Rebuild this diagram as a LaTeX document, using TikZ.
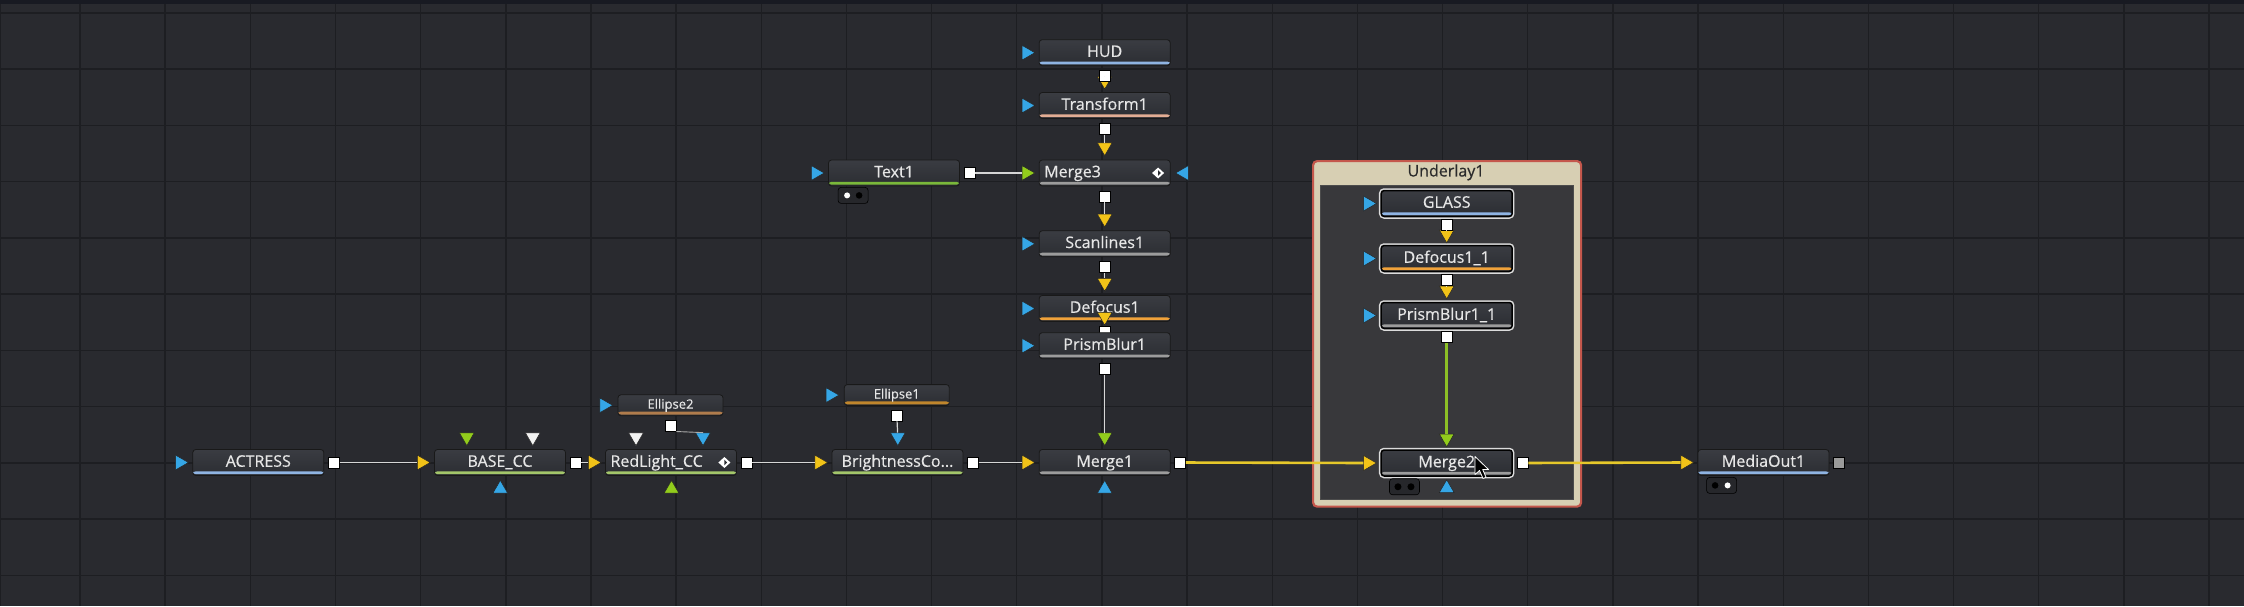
\documentclass[tikz,border=0pt]{standalone}
\usepackage{fontspec}
\newfontfamily\uifont[FakeBold=0.5]{Open Sans}
\usetikzlibrary{shapes.geometric,calc}
\definecolor{bgc}{HTML}{292A2F}
\definecolor{gridc}{HTML}{1D1E22}
\definecolor{topband}{HTML}{181A22}
\definecolor{nodetop}{HTML}{3A3C42}
\definecolor{nodebot}{HTML}{2B2D32}
\definecolor{nodetext}{HTML}{E6E6E6}
\definecolor{barblue}{HTML}{8FB4E3}
\definecolor{barcc}{HTML}{A3C66A}
\definecolor{bartext}{HTML}{7AB83A}
\definecolor{barbrown}{HTML}{B07C4C}
\definecolor{barochre}{HTML}{C0862C}
\definecolor{barorange}{HTML}{F0A23A}
\definecolor{barpeach}{HTML}{E3AD94}
\definecolor{bargrey}{HTML}{9C9C9C}
\definecolor{triblue}{HTML}{35A6E6}
\definecolor{triyellow}{HTML}{F2C318}
\definecolor{trigreen}{HTML}{92CC1C}
\definecolor{triwhite}{HTML}{F2F2F2}
\definecolor{linkc}{HTML}{D6D6D6}
\definecolor{ylinkc}{HTML}{E6C82A}
\definecolor{glinkc}{HTML}{8CBF26}
\definecolor{beige}{HTML}{D7CFB3}
\definecolor{redc}{HTML}{C4574C}
\definecolor{innerc}{HTML}{38383B}
\definecolor{selc}{HTML}{DCDCDC}
\definecolor{headtxt}{HTML}{2B2B2B}
\definecolor{tabc}{HTML}{26272B}
\definecolor{greysq}{HTML}{9A9A9A}
\tikzset{
  fnode/.style={rectangle, rounded corners=3pt, minimum width=131pt, minimum height=26pt,
    inner sep=0pt, text height=11.5pt, text depth=3pt, top color=nodetop, bottom color=nodebot,
    draw=black!90, line width=0.8pt, text=nodetext, font=\uifont\fontsize{16}{18}\selectfont},
  selnode/.style={fnode, preaction={draw=selc, line width=4.5pt}, draw=black, line width=1.5pt},
  smallnode/.style={fnode, minimum width=105pt, minimum height=21pt, text height=9.3pt,
    text depth=2.5pt, font=\uifont\fontsize{13}{15}\selectfont},
  bar/.style={path picture={\fill[#1] ([yshift=1.3pt]path picture bounding box.south west)
    rectangle ([yshift=4.2pt]path picture bounding box.south east);}},
  leftal/.style={text width=121pt, align=left},
  tri/.style={regular polygon, regular polygon sides=3, minimum size=17pt, inner sep=0pt,
    draw=black!85, line width=0.5pt},
  tright/.style={tri, shape border rotate=-90, fill=#1, anchor=east},
  tleft/.style={tri, shape border rotate=90, fill=#1, anchor=west},
  tdown/.style={tri, shape border rotate=180, fill=#1, anchor=south},
  tup/.style={tri, fill=#1, anchor=north},
  osq/.style={rectangle, minimum size=11pt, inner sep=0pt, fill=#1, draw=black, line width=0.6pt},
  osq/.default=white,
  ptab/.style={rectangle, rounded corners=3pt, minimum width=30pt, minimum height=16pt,
    inner sep=0pt, fill=tabc, draw=black, line width=0.6pt},
  link/.style={draw=linkc, line width=1.2pt},
  ylink/.style={draw=ylinkc, line width=2.6pt},
  glink/.style={draw=glinkc, line width=2.6pt}
}
\begin{document}
\begin{tikzpicture}[x=1pt,y=-1pt]
\useasboundingbox (0,0) rectangle (2244,606);
% background and grid
\fill[bgc] (0,0) rectangle (2244,606);
\foreach \k in {0,...,25} { \draw[gridc, line width=1.4pt] ({80+85.16*\k},0) -- ({80+85.16*\k},606); }
\foreach \k in {0,...,10} { \draw[gridc, line width=1.4pt] (0,{12.9+56.24*\k}) -- (2244,{12.9+56.24*\k}); }
\draw[gridc, line width=1.4pt] (0.7,0) -- (0.7,606);
\fill[topband] (0,0) rectangle (2244,3.5);

% group Underlay1
\node[rectangle, rounded corners=4pt, fill=beige, draw=redc, line width=2.2pt, minimum width=268pt,
  minimum height=345.5pt, anchor=north west, inner sep=0pt] (underlay) at (1312,160) {};
\node[rectangle, fill=innerc, draw=black!70, line width=0.6pt, minimum width=253pt, minimum height=313.7pt,
  anchor=north west, inner sep=0pt] (underlayin) at (1319.5,184.8) {};
\node[text=headtxt, font=\uifont\fontsize{16}{18}\selectfont, inner sep=0pt] (underlayhead) at (1446,172.3) {Underlay1};

% main row
\node[fnode, bar=barblue] (actress) at (258.3,462.5) {ACTRESS};
\node[fnode, bar=barcc] (basecc) at (500,462.5) {BASE\_CC};
\node[fnode, bar=barcc, leftal] (redlight) at (671,462.5) {RedLight\_CC};
\node[fnode, bar=barcc] (bright) at (897.5,462.5) {BrightnessCo...};
\node[fnode, bar=bargrey] (merge1) at (1104.7,462.5) {Merge1};
\node[fnode, bar=barblue] (mediaout) at (1763.5,462.5) {MediaOut1};
% column
\node[fnode, bar=barblue] (hud) at (1104.7,52.7) {HUD};
\node[fnode, bar=barpeach] (transform) at (1104.7,105.5) {Transform1};
\node[fnode, bar=bargrey, leftal] (merge3) at (1104.7,173) {Merge3};
\node[fnode, bar=bartext] (text1) at (894,173) {Text1};
\node[fnode, bar=bargrey] (scan) at (1104.7,243.8) {Scanlines1};
\node[fnode, bar=barorange] (defocus) at (1104.7,308.5) {Defocus1};
\node[osq] (def-out) at ($(defocus.south)+(0,9.5)$) {};
\node[fnode, bar=bargrey] (prism) at (1104.7,345.7) {PrismBlur1};
% masks
\node[smallnode, bar=barbrown] (ellipse2) at (670.5,405.3) {Ellipse2};
\node[smallnode, bar=barochre] (ellipse1) at (896.8,395.1) {Ellipse1};
% group contents
\node[selnode, bar=barblue] (glass) at (1446.7,203.5) {GLASS};
\node[selnode, bar=barorange] (defocus11) at (1446.7,258.5) {Defocus1\_1};
\node[selnode, bar=bargrey] (prism11) at (1446.7,315.5) {PrismBlur1\_1};
\node[selnode, bar=bargrey] (merge2) at (1446.7,463) {Merge2};

% diamond icons
\foreach \n in {merge3,redlight} {
  \fill[white] ($(\n.east)+(-18.5,0)$) -- ++(6,-5.5) -- ++(6,5.5) -- ++(-6,5.5) -- cycle;
  \fill[nodebot] ($(\n.east)+(-12.5,0)$) -- ++(0,-2.8) -- ++(2.8,2.8) -- ++(-2.8,2.8) -- cycle;
}

% left inputs
\node[tright=triblue] (actress-in) at ($(actress.west)+(-3.5,0)$) {};
\node[tright=triyellow] (basecc-in) at ($(basecc.west)+(-3.5,0)$) {};
\node[tright=triyellow] (redlight-in) at ($(redlight.west)+(-3.5,0)$) {};
\node[tright=triyellow] (bright-in) at ($(bright.west)+(-3.5,0)$) {};
\node[tright=triyellow] (merge1-in) at ($(merge1.west)+(-3.5,0)$) {};
\node[tright=triyellow] (merge2-in) at ($(merge2.west)+(-3.5,0)$) {};
\node[tright=triyellow] (mediaout-in) at ($(mediaout.west)+(-3.5,0)$) {};
\node[tright=triblue] (hud-in) at ($(hud.west)+(-3.5,0)$) {};
\node[tright=triblue] (transform-side) at ($(transform.west)+(-3.5,0)$) {};
\node[tright=trigreen] (merge3-fg) at ($(merge3.west)+(-3.5,0)$) {};
\node[tright=triblue] (text1-in) at ($(text1.west)+(-3.5,0)$) {};
\node[tright=triblue] (scan-side) at ($(scan.west)+(-3.5,0)$) {};
\node[tright=triblue] (defocus-side) at ($(defocus.west)+(-3.5,0)$) {};
\node[tright=triblue] (prism-side) at ($(prism.west)+(-3.5,0)$) {};
\node[tright=triblue] (glass-in) at ($(glass.west)+(-3.5,0)$) {};
\node[tright=triblue] (defocus11-side) at ($(defocus11.west)+(-3.5,0)$) {};
\node[tright=triblue] (prism11-side) at ($(prism11.west)+(-3.5,0)$) {};
\node[tright=triblue] (ellipse2-in) at ($(ellipse2.west)+(-4.5,0)$) {};
\node[tright=triblue] (ellipse1-in) at ($(ellipse1.west)+(-4.5,0)$) {};
\node[tleft=triblue] (merge3-eff) at ($(merge3.east)+(4.5,0)$) {};

% top inputs
\node[tdown=trigreen] (basecc-top1) at ($(basecc.north)+(-33.2,-3)$) {};
\node[tdown=triwhite] (basecc-top2) at ($(basecc.north)+(32.8,-3)$) {};
\node[tdown=triwhite] (redlight-top1) at ($(redlight.north)+(-35,-3)$) {};
\node[tdown=triblue] (redlight-top2) at ($(redlight.north)+(32,-3)$) {};
\node[tdown=triblue] (bright-top) at ($(bright.north)+(0.3,-3)$) {};
\node[tdown=trigreen] (merge1-top) at ($(merge1.north)+(0,-3)$) {};
\node[tdown=trigreen] (merge2-top) at ($(merge2.north)+(0,-2)$) {};
\node[tdown=triyellow] (transform-in) at ($(transform.north)+(0,-2.5)$) {};
\node[tdown=triyellow] (merge3-in) at ($(merge3.north)+(0,-3.5)$) {};
\node[tdown=triyellow] (scan-in) at ($(scan.north)+(0,-3)$) {};
\node[tdown=triyellow] (defocus-in) at ($(defocus.north)+(0,-3.5)$) {};
\node[tdown=triyellow] (prism-in) at ($(prism.north)+(0,-6.7)$) {};
\node[tdown=triyellow] (defocus11-in) at ($(defocus11.north)+(0,-1.5)$) {};
\node[tdown=triyellow] (prism11-in) at ($(prism11.north)+(0,-2.5)$) {};

% bottom inputs
\node[tup=triblue] (basecc-bot) at ($(basecc.south)+(0.3,4)$) {};
\node[tup=trigreen] (redlight-bot) at ($(redlight.south)+(0.5,4)$) {};
\node[tup=triblue] (merge1-bot) at ($(merge1.south)+(0,4)$) {};
\node[tup=triblue] (merge2-bot) at ($(merge2.south)+(0,2.5)$) {};

% outputs
\node[osq] (actress-out) at ($(actress.east)+(9.5,0)$) {};
\node[osq] (basecc-out) at ($(basecc.east)+(9.5,0)$) {};
\node[osq] (redlight-out) at ($(redlight.east)+(9.5,0)$) {};
\node[osq] (bright-out) at ($(bright.east)+(9.5,0)$) {};
\node[osq] (merge1-out) at ($(merge1.east)+(9.5,0)$) {};
\node[osq] (merge2-out) at ($(merge2.east)+(9.5,0)$) {};
\node[osq=greysq] (mediaout-out) at ($(mediaout.east)+(9.5,0)$) {};
\node[osq] (text1-out) at ($(text1.east)+(9.5,0)$) {};
\node[osq] (hud-out) at ($(hud.south)+(0,10)$) {};
\node[osq] (transform-out) at ($(transform.south)+(0,10)$) {};
\node[osq] (merge3-out) at ($(merge3.south)+(0,10)$) {};
\node[osq] (scan-out) at ($(scan.south)+(0,10)$) {};
\node[osq] (prism-out) at ($(prism.south)+(0,10)$) {};
\node[osq] (glass-out) at ($(glass.south)+(0,8)$) {};
\node[osq] (defocus11-out) at ($(defocus11.south)+(0,8)$) {};
\node[osq] (prism11-out) at ($(prism11.south)+(0,8)$) {};
\node[osq] (ellipse2-out) at ($(ellipse2.south)+(0,9.5)$) {};
\node[osq] (ellipse1-out) at ($(ellipse1.south)+(0,9.5)$) {};

% tabs
\node[ptab] (text1-tab) at ($(text1.south west)+(25,9)$) {};
\fill[white] ($(text1-tab.center)+(-6,0)$) circle (3);
\fill[black] ($(text1-tab.center)+(6,0)$) circle (3.3);
\node[ptab] (merge2-tab) at ($(merge2.south west)+(24,10)$) {};
\fill[black] ($(merge2-tab.center)+(-6.5,0)$) circle (3.5);
\fill[black] ($(merge2-tab.center)+(6.5,0)$) circle (3.5);
\node[ptab] (mediaout-tab) at ($(mediaout.south west)+(24,9.5)$) {};
\fill[black] ($(mediaout-tab.center)+(-6.5,0)$) circle (3.3);
\fill[white] ($(mediaout-tab.center)+(6,0)$) circle (3);

% connectors
\draw[link] (actress-out) -- (basecc-in);
\draw[link] (basecc-out) -- (redlight-in);
\draw[link] (redlight-out) -- (bright-in);
\draw[link] (bright-out) -- (merge1-in);
\draw[link] (text1-out) -- (merge3-fg);
\draw[link] (hud-out) -- (transform-in);
\draw[link] (transform-out) -- (merge3-in);
\draw[link] (merge3-out) -- (scan-in);
\draw[link] (scan-out) -- (defocus-in);
\draw[link] (prism-out) -- (merge1-top);
\draw[link, line width=0.9pt, draw=linkc!80!black] (ellipse2-out.south east) -- (redlight-top2.north);
\draw[link] (ellipse1-out) -- (bright-top);
\draw[link] (glass-out) -- (defocus11-in);
\draw[link] (defocus11-out) -- (prism11-in);
\draw[ylink] (merge1-out) -- (merge2-in);
\draw[ylink] (merge2-out) -- (mediaout-in);
\draw[glink] (prism11-out) -- (merge2-top);

% mouse cursor
\draw[white, fill=black, line width=0.8pt, line join=round]
  (1475,456.5) -- ++(0,18) -- ++(4.5,-4) -- ++(3.5,8) -- ++(3,-1.3) -- ++(-3.3,-7.7) -- ++(5.8,0) -- cycle;
\end{tikzpicture}
\end{document}
